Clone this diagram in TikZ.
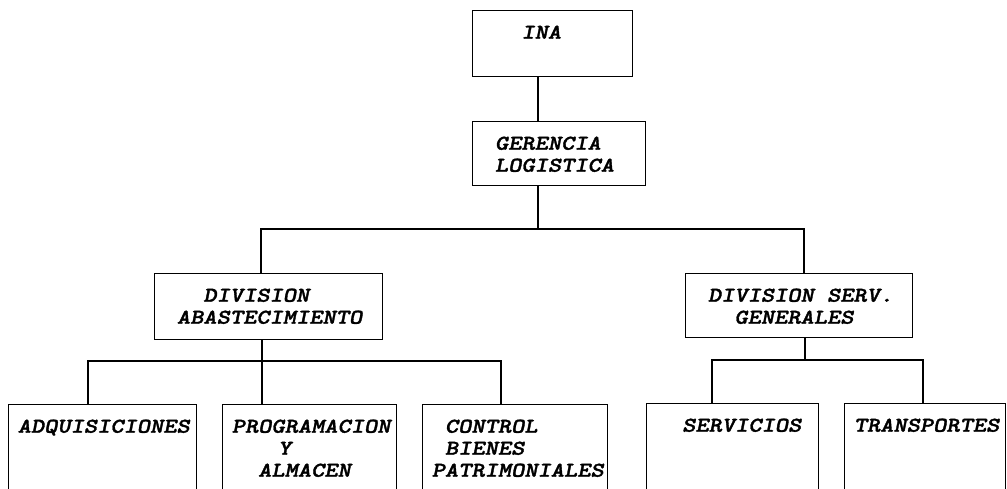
\documentclass[tikz,border=0pt]{standalone}
\usepackage{fontspec}
\newfontfamily\typewriter{lmmonolt10-boldoblique.otf}[FakeStretch=1.2, FakeBold=1.6]
\newcommand{\boxfont}{\typewriter\fontsize{21}{22}\selectfont\hyphenchar\font=-1 }
\newcommand{\indentby}[1]{\hspace*{#1\dimexpr 0.63em\relax}}

\begin{document}
\begin{tikzpicture}[x=1pt, y=-1pt,
  orgbox/.style={draw, line width=1.4pt, anchor=north west, align=left, inner xsep=9pt, inner ysep=16pt, text height=12pt, font=\boxfont},
  link/.style={line width=1.4pt}]
\useasboundingbox (0,0) rectangle (1007,488);
% upper levels
\node[orgbox, text width=142pt, text depth=22pt] (ina) at (472,10) {\indentby{3}INA};
\node[orgbox, text width=155pt, text depth=20pt] (ger) at (472,121) {\indentby{1}GERENCIA\\\indentby{1}LOGISTICA};
\node[orgbox, text width=210pt, text depth=22pt] (abast) at (154,273) {\indentby{3}DIVISION\\\indentby{1}ABASTECIMIENTO};
\node[orgbox, text width=209pt, text depth=20pt] (sgen) at (685,273) {\indentby{1}DIVISION\indentby{1}SERV.\\\indentby{3}GENERALES};
% lower level
\node[orgbox, text width=170pt, text depth=100pt] (adq) at (8,404) {ADQUISICIONES};
\node[orgbox, text width=156pt, text depth=100pt] (prog) at (222,404) {PROGRAMACION\\\indentby{3.5}Y\\\indentby{2}ALMACEN};
\node[orgbox, text width=167pt, text depth=100pt] (ctrl) at (422,404) {\indentby{1}CONTROL\\\indentby{1}BIENES\\PATRIMONIALES};
\node[orgbox, text width=154pt, text depth=100pt] (serv) at (646,403) {\indentby{2}SERVICIOS};
\node[orgbox, text width=143pt, text depth=100pt] (trans) at (844,403) {TRANSPORTES};
% junctions
\coordinate (top) at (538,229);
\coordinate (left) at (261,229);
\coordinate (right) at (804,229);
\coordinate (abus) at (262,361);
\coordinate (a1) at (88,361);
\coordinate (a3) at (501,361);
\coordinate (sbus) at (805,360);
\coordinate (s1) at (712,360);
\coordinate (s2) at (923,360);
% connectors
\draw[link] (ina.south -| top) -- (ger.north -| top);
\draw[link] (ger.south -| top) -- (top);
\draw[link] (abast.north -| left) |- (right) -- (sgen.north -| right);
\draw[link] (abast.south -| abus) -- (abus);
\draw[link] (adq.north -| a1) |- (a3) -- (ctrl.north -| a3);
\draw[link] (prog.north -| abus) -- (abus);
\draw[link] (sgen.south -| sbus) -- (sbus);
\draw[link] (serv.north -| s1) |- (s2) -- (trans.north -| s2);
\end{tikzpicture}
\end{document}
